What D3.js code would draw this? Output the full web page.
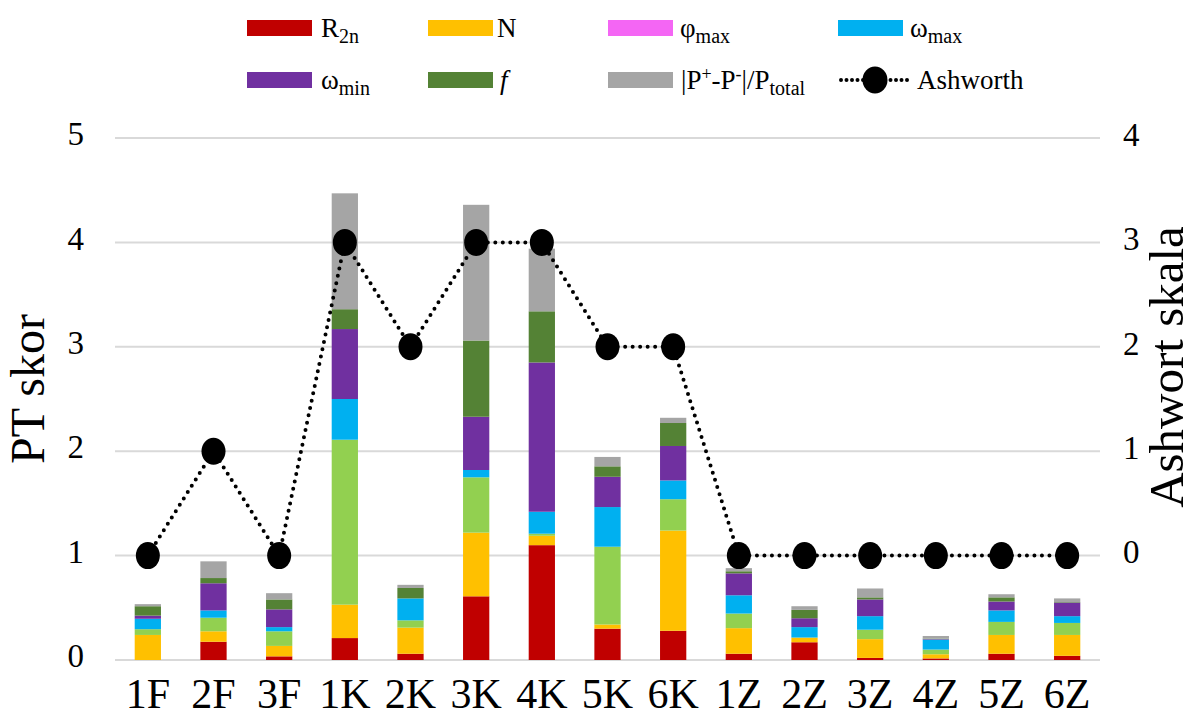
<!DOCTYPE html>
<html><head><meta charset="utf-8">
<script src="https://cdn.jsdelivr.net/npm/d3@7"></script>
<style>body{margin:0;background:#fff}svg{display:block}svg text{font-family:"Liberation Serif","Times New Roman",Times,serif}</style>
</head><body>
<svg id="c" width="1196" height="722"></svg>
<script>
const categories = ["1F","2F","3F","1K","2K","3K","4K","5K","6K","1Z","2Z","3Z","4Z","5Z","6Z"];
const R2n   = [0.00,0.175,0.035,0.21,0.06,0.61,1.10,0.30,0.28,0.06,0.17,0.02,0.015,0.06,0.04];
const N     = [0.24,0.10,0.10,0.32,0.25,0.61,0.09,0.04,0.96,0.245,0.045,0.18,0.04,0.18,0.20];
const phiMax= [0.055,0.13,0.14,1.58,0.07,0.53,0.02,0.745,0.30,0.14,0.00,0.09,0.045,0.125,0.115];
const wMax  = [0.10,0.07,0.04,0.39,0.21,0.07,0.21,0.38,0.18,0.175,0.10,0.13,0.095,0.11,0.065];
const wMin  = [0.03,0.26,0.17,0.67,0.00,0.51,1.43,0.29,0.33,0.21,0.085,0.16,0.005,0.085,0.13];
const fVal  = [0.09,0.05,0.095,0.19,0.10,0.73,0.49,0.10,0.22,0.02,0.08,0.02,0.005,0.04,0.005];
const pRatio= [0.02,0.16,0.06,1.11,0.03,1.30,0.60,0.09,0.05,0.03,0.035,0.085,0.025,0.03,0.035];
const ashworth = [0,1,0,3,2,3,3,2,2,0,0,0,0,0,0];
const leftTicks = [0,1,2,3,4,5];
const rightTicks = [0,1,2,3,4];

const seriesKeys = ["R2n","N","phiMax","wMax","wMin","f","P"];
const seriesVals = [R2n,N,phiMax,wMax,wMin,fVal,pRatio];
const barColors = ["#C00000","#FFC000","#92D050","#00B0F0","#7030A0","#548235","#A5A5A5"];
const legendColors = ["#C00000","#FFC000","#F466F4","#00B0F0","#7030A0","#548235","#A5A5A5"];

const FONT = '"Liberation Serif","Times New Roman",Times,serif';
const rows = categories.map((c,i)=>{const o={cat:c}; seriesKeys.forEach((k,j)=>o[k]=seriesVals[j][i]); return o;});
const stack = d3.stack().keys(seriesKeys)(rows);

const svg = d3.select("#c").style("font-family",FONT);
const x0=115, x1=1100, yTop=138, yBot=660;
const x = d3.scaleBand().domain(categories).range([x0,x1]).paddingInner(0.6).paddingOuter(0.3);
const y = d3.scaleLinear().domain([0,5]).range([yBot,yTop]);
const y2 = d3.scaleLinear().domain([-1,4]).range([yBot,yTop]);

svg.append("g").selectAll("line").data(leftTicks).join("line")
  .attr("x1",x0).attr("x2",x1).attr("y1",d=>y(d)).attr("y2",d=>y(d))
  .attr("stroke","#d9d9d9").attr("stroke-width",2);

const ga = svg.append("g").attr("transform",`translate(${x0-8},0)`)
  .call(d3.axisLeft(y).tickValues(leftTicks).tickSize(0).tickPadding(23).tickFormat(d3.format("d")));
ga.attr("font-family",FONT).select(".domain").remove();
ga.selectAll("text").attr("font-size",33).attr("fill","#000").attr("dy","0.2em");

const gr = svg.append("g").attr("transform",`translate(${x1+8},0)`)
  .call(d3.axisRight(y2).tickValues(rightTicks).tickSize(0).tickPadding(15).tickFormat(d3.format("d")));
gr.attr("font-family",FONT).select(".domain").remove();
gr.selectAll("text").attr("font-size",33).attr("fill","#000").attr("dy","0.22em");

const gx = svg.append("g").attr("transform",`translate(0,${yBot})`)
  .call(d3.axisBottom(x).tickSize(0).tickPadding(18));
gx.attr("font-family",FONT).select(".domain").remove();
gx.selectAll("text").attr("font-size",42).attr("fill","#000");

svg.append("g").selectAll("g").data(stack).join("g").attr("fill",(d,i)=>barColors[i])
  .selectAll("rect").data(d=>d).join("rect")
  .attr("x",d=>x(d.data.cat)).attr("width",x.bandwidth())
  .attr("y",d=>y(d[1])).attr("height",d=>Math.max(0,y(d[0])-y(d[1])));

const line = d3.line().x((d,i)=>x(categories[i])+x.bandwidth()/2).y(d=>y2(d));
svg.append("path").datum(ashworth).attr("d",line).attr("fill","none")
  .attr("stroke","#000").attr("stroke-width",4).attr("stroke-linecap","round").attr("stroke-dasharray","0,7.5");
svg.append("g").selectAll("ellipse").data(ashworth).join("ellipse")
  .attr("cx",(d,i)=>x(categories[i])+x.bandwidth()/2).attr("cy",d=>y2(d))
  .attr("rx",12).attr("ry",13.5).attr("fill","#000");

svg.append("text").attr("transform","translate(44,389) rotate(-90)").attr("text-anchor","middle")
  .attr("font-size",48).text("PT skor");
svg.append("text").attr("transform","translate(1183,367) rotate(-90)").attr("text-anchor","middle")
  .attr("font-size",49).text("Ashwort skala");

const lg = svg.append("g").attr("font-size",27);
const legendPos = [[247,28],[428,28],[608,28],[838,28],[247,80],[428,80],[608,80]];
legendPos.forEach((p,i)=>{
  lg.append("rect").attr("x",p[0]).attr("y",p[1]-8).attr("width",65).attr("height",16).attr("fill",legendColors[i]);
});
function lt(px,py){return lg.append("text").attr("x",px).attr("y",py+9);}
let t;
t=lt(321,28); t.append("tspan").text("R"); t.append("tspan").attr("font-size",20).attr("dy",6).text("2n");
t=lt(497,28); t.append("tspan").text("N");
t=lt(680,28); t.append("tspan").text("φ"); t.append("tspan").attr("font-size",20).attr("dy",6).text("max");
t=lt(910,28); t.append("tspan").text("ω"); t.append("tspan").attr("font-size",20).attr("dy",6).text("max");
t=lt(321,80); t.append("tspan").text("ω"); t.append("tspan").attr("font-size",20).attr("dy",6).text("min");
t=lt(500,80); t.append("tspan").attr("font-style","italic").text("f");
t=lt(681,80); t.append("tspan").text("|P"); t.append("tspan").attr("font-size",18).attr("dy",-9).text("+");
t.append("tspan").attr("dy",9).text("-P"); t.append("tspan").attr("font-size",18).attr("dy",-9).text("-");
t.append("tspan").attr("dy",9).text("|/P"); t.append("tspan").attr("font-size",20).attr("dy",6).text("total");
lg.append("line").attr("x1",841).attr("x2",908).attr("y1",80).attr("y2",80).attr("stroke","#000")
  .attr("stroke-width",4).attr("stroke-linecap","round").attr("stroke-dasharray","0,5.5");
lg.append("ellipse").attr("cx",875).attr("cy",80).attr("rx",12.5).attr("ry",13.5).attr("fill","#000");
t=lt(917,80); t.append("tspan").text("Ashworth");
</script>
</body></html>
